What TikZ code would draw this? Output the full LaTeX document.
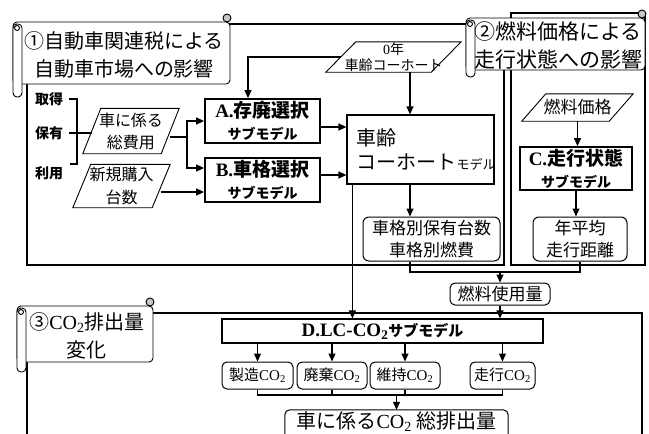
\documentclass[tikz,border=0pt]{standalone}
\usepackage{fontspec}
\setmainfont{Noto Sans CJK JP}
\newfontfamily\ser{Liberation Serif}
\usetikzlibrary{arrows.meta}
\newcommand{\fs}[2]{\fontsize{#1pt}{#2pt}\selectfont}
\newcommand{\COt}{{\ser CO\textsubscript{2}}}
\newcommand{\paral}[2]{\draw[line width=0.9pt] ([xshift=-#2pt]#1.south west) -- ([xshift=#2pt]#1.north west) -- ([xshift=#2pt]#1.north east) -- ([xshift=-#2pt]#1.south east) -- cycle;}
\newcommand{\scrollshape}[5]{%
  \draw[scr,fill=white,rounded corners=4pt] (#1,#2) rectangle (#3,#4);
  \draw[scr,fill=white,rounded corners=4pt] (#1,#2+2) rectangle (#1+9,#5);
  \draw[scr] (#1+4,#2+6) circle[radius=2.5pt];
  \draw[scr,fill=gray!45] (#3-3,#2-4) circle[radius=4pt];}
\tikzset{
  frame/.style={line width=2.8pt},
  scr/.style={line width=0.9pt},
  sbox/.style={draw, line width=1.8pt, inner sep=1pt, align=center},
  thinbox/.style={draw, line width=1.2pt, inner sep=1pt, align=center},
  rbox/.style={draw, line width=1pt, rounded corners=6pt, align=center, inner sep=1pt},
  lab/.style={inner sep=2pt, font=\fs{14}{16}\bfseries},
  para/.style={inner sep=0pt, align=center},
  conn/.style={line width=1.2pt},
  arr/.style={conn, -{Triangle[length=8pt,width=7pt]}}
}
\begin{document}
\begin{tikzpicture}[x=1pt,y=-1pt]
\useasboundingbox (0,0) rectangle (649,434);
\clip (0,0) rectangle (649,434);
% frames
\draw[frame] (27,24) rectangle (504,265);
\draw[frame] (511,13) rectangle (645,265);
\draw[frame] (27,313) rectangle (642,450);
% scrolls
\scrollshape{13}{22}{230}{84}{97}
\scrollshape{466}{18}{645}{70}{77}
\scrollshape{17}{306}{153}{362}{372}
\node[font=\fs{20}{28}, align=center, inner sep=0pt] (t1) at (124,55) {①自動車関連税による\\自動車市場への影響};
\node[font=\fs{21}{28}, align=center, inner sep=0pt] (t2) at (558,45) {②燃料価格による\\走行状態への影響};
\node[font=\fs{20}{28}, align=center, inner sep=0pt] (t3) at (87,336) {③\COt 排出量\\変化};
% box 1 contents
\node[lab] (acq) at (49,99) {取得};
\node[lab] (hold) at (49,133) {保有};
\node[lab] (use) at (49,173) {利用};
\node[para, minimum width=78pt, minimum height=45pt, font=\fs{16}{22}] (cost) at (131,131) {車に係る\\総費用};
\paral{cost}{9}
\node[para, minimum width=79pt, minimum height=43pt, font=\fs{16}{23}] (newbuy) at (121.5,186) {新規購入\\台数};
\paral{newbuy}{9}
\node[para, minimum width=105pt, minimum height=30pt, font=\fs{14}{16}] (zero) at (393.5,57) {{\ser 0}年\\車齢コーホート};
\paral{zero}{15}
\node[sbox, minimum width=115pt, minimum height=44pt, font=\fs{19}{22}\bfseries] (A) at (262.5,121) {{\ser A.}存廃選択\\{\fs{14}{18}\bfseries サブモデル}};
\node[sbox, minimum width=115pt, minimum height=44pt, font=\fs{19}{22}\bfseries] (B) at (262.5,180) {{\ser B.}車格選択\\{\fs{14}{18}\bfseries サブモデル}};
\node[thinbox, minimum width=147pt, minimum height=69pt, text width=128pt, align=left, font=\fs{20}{24}] (cohort) at (420.5,149.5) {車齢\\コーホート{\fs{13}{16}モデル}};
\node[rbox, minimum width=137pt, minimum height=44pt, font=\fs{17}{22}] (veh) at (431.5,239) {車格別保有台数\\車格別燃費};
% box 2 contents
\node[para, minimum width=87pt, minimum height=27pt, font=\fs{17}{20}] (fprice) at (577.5,107.5) {燃料価格};
\paral{fprice}{12}
\node[sbox, minimum width=112pt, minimum height=43pt, font=\fs{19}{22}\bfseries] (C) at (576,168.5) {{\ser C.}走行状態\\{\fs{14}{18}\bfseries サブモデル}};
\node[rbox, minimum width=94pt, minimum height=44pt, font=\fs{17}{22}] (dist) at (580,239) {年平均\\走行距離};
% between
\node[rbox, rounded corners=5pt, minimum width=100pt, minimum height=22pt, font=\fs{17}{20}] (fuse) at (500,294) {燃料使用量};
% box 3 contents
\node[thinbox, minimum width=321pt, minimum height=24pt] (D) at (382.5,331) {{\fs{19}{22}\ser\bfseries D.LC-CO\textsubscript{2}}{\fs{15}{18}\bfseries サブモデル}};
\node[rbox, rounded corners=5pt, minimum width=71pt, minimum height=27pt, font=\fs{15}{18}] (m1) at (257.5,375.5) {製造\COt};
\node[rbox, rounded corners=5pt, minimum width=70pt, minimum height=27pt, font=\fs{15}{18}] (m2) at (332,375.5) {廃棄\COt};
\node[rbox, rounded corners=5pt, minimum width=70pt, minimum height=27pt, font=\fs{15}{18}] (m3) at (405,375.5) {維持\COt};
\node[rbox, rounded corners=5pt, minimum width=65pt, minimum height=27pt, font=\fs{15}{18}] (m4) at (502.5,375.5) {走行\COt};
\node[inner sep=1pt, minimum width=223pt, minimum height=24pt, font=\fs{20}{22}] (tot) at (396.5,422) {車に係る\COt\ 総排出量};
\draw[line width=1pt, rounded corners=5pt] (tot.north west) rectangle ([yshift=-15pt]tot.south east);
% connectors
\coordinate (split) at (187,137);
\coordinate (jy) at (0,272);
\coordinate (jy2) at (0,395);
\draw[conn] ([xshift=4pt]acq.east) -| (77,164) -- ++(-7,0);
\draw[conn] ([xshift=4pt]hold.east) -- (hold.east -| cost.west);
\draw[conn] ([yshift=-6pt]cost.east) -- (split);
\draw[arr] (split) |- (A.west);
\draw[arr] (split) |- ([yshift=12pt]B.west);
\draw[arr] ([yshift=-6pt]newbuy.east) -- ([yshift=-12pt]B.west);
\draw[arr] (zero.west) -| ([xshift=-14.5pt]A.north);
\draw[arr] ([xshift=16.5pt]zero.south) -- ([xshift=16.5pt]zero.south |- cohort.north);
\draw[arr] ([yshift=-6pt]A.east) -- ([yshift=-6pt]A.east -| cohort.west);
\draw[arr] ([yshift=5pt]B.east) -- ([yshift=5pt]B.east -| cohort.west);
\draw[arr] ([xshift=-10.5pt]cohort.south) -- ([xshift=-10.5pt]cohort.south |- veh.north);
\draw[arr] ([xshift=6pt]cohort.south west) -- ([xshift=6pt]cohort.south west |- D.north);
\draw[arr] (fprice.south) -- (fprice.south |- C.north);
\draw[arr] (C.south) -- (C.south |- dist.north);
\draw[conn] ([xshift=-21.5pt]veh.south) |- (dist.south |- jy) -- (dist.south);
\draw[arr] (fuse.north |- jy) -- (fuse.north);
\draw[arr] (fuse.south) -- (fuse.south |- D.north);
\draw[arr] (m1.north |- D.south) -- (m1.north);
\draw[arr] (m2.north |- D.south) -- (m2.north);
\draw[arr] (m3.north |- D.south) -- (m3.north);
\draw[arr] (m4.north |- D.south) -- (m4.north);
\draw[conn] (m1.south) |- (m4.south |- jy2) -- (m4.south);
\draw[conn] (m2.south) -- (m2.south |- jy2);
\draw[conn] (m3.south) -- (m3.south |- jy2);
\draw[arr] (tot.north |- jy2) -- (tot.north);
\end{tikzpicture}
\end{document}
